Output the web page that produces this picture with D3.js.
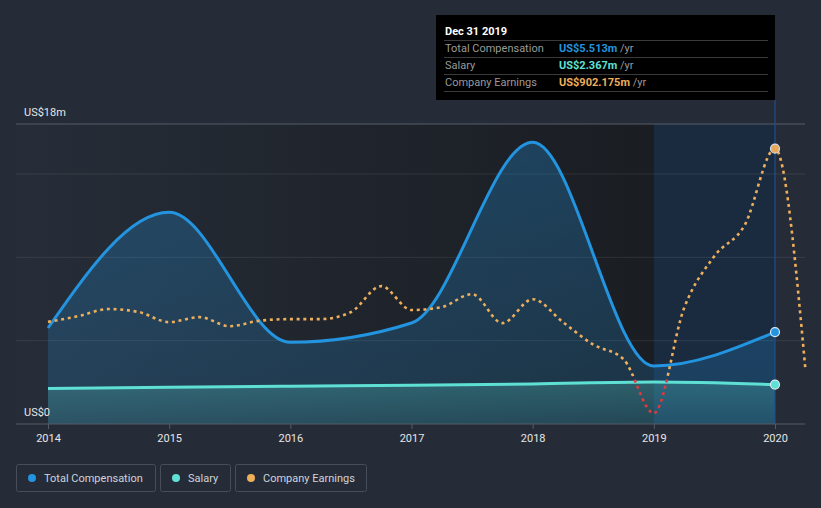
<!DOCTYPE html>
<html><head><meta charset="utf-8">
<script src="https://cdn.jsdelivr.net/npm/d3@7"></script>
<style>
html,body{margin:0;padding:0;background:#252c38;}
svg{display:block;font-family:Roboto,"Noto Sans",sans-serif;}
</style></head>
<body><svg id="c" width="821" height="508"></svg>
<script>
const years = [2014, 2015, 2016, 2017, 2018, 2019, 2020];
const totalComp = [5.76, 12.7, 4.9, 6.06, 16.9, 3.48, 5.513];
const salary = [2.13, 2.2, 2.27, 2.32, 2.4, 2.52, 2.367];
const earningsDates = [2014, 2014.25, 2014.5, 2014.75, 2015, 2015.25, 2015.5, 2015.75, 2016, 2016.25, 2016.5, 2016.75,
  2017, 2017.25, 2017.5, 2017.75, 2018, 2018.25, 2018.5, 2018.75, 2019, 2019.25, 2019.5, 2019.75, 2020, 2020.25];
const earnings = [215, 238, 266, 254, 214, 234, 198, 220, 226, 226, 254, 357,
  262, 274, 325, 210, 305, 214, 125, 67, -147, 270, 476, 599, 902.175, 32];
const yTickValues = [0, 18];
const yTickLabels = ["US$0", "US$18m"];
const gridValues = [5, 10, 15];
const tooltipTitle = "Dec 31 2019";
const tooltipRows = [
  {label: "Total Compensation", value: "US$5.513m", color: "#2394df"},
  {label: "Salary", value: "US$2.367m", color: "#5fe0d4"},
  {label: "Company Earnings", value: "US$902.175m", color: "#eeaf5b"}
];
const legendItems = [
  {label: "Total Compensation", color: "#2394df"},
  {label: "Salary", color: "#5fe0d4"},
  {label: "Company Earnings", color: "#eeaf5b"}
];

(function(){
const svg = d3.select("#c");
const W = 821, H = 508;
const pL = 16, pR = 805, pT = 124, pB = 424;
const x = d3.scaleLinear().domain([2014, 2020]).range([48, 775]);
const y = d3.scaleLinear().domain([0, 18]).range([pB, pT]);
const ye = d3.scaleLinear().domain([-190, 1000]).range([pB, pT]);

const defs = svg.append("defs");
const g1 = defs.append("linearGradient").attr("id", "bgGrad").attr("x1", 0).attr("x2", 1).attr("y1", 0).attr("y2", 0);
g1.append("stop").attr("offset", "0%").attr("stop-color", "#262d38");
g1.append("stop").attr("offset", ((x(2019) - pL) / (x(2020) - pL) * 100) + "%").attr("stop-color", "#1a1d22");
g1.append("stop").attr("offset", "100%").attr("stop-color", "#1a1d22");
const g2 = defs.append("linearGradient").attr("id", "compGrad").attr("x1", 0).attr("x2", 0).attr("y1", 0).attr("y2", 1);
g2.append("stop").attr("offset", "0%").attr("stop-color", "#2394df").attr("stop-opacity", 0.3);
g2.append("stop").attr("offset", "100%").attr("stop-color", "#2394df").attr("stop-opacity", 0.18);
const g3 = defs.append("linearGradient").attr("id", "salGrad").attr("x1", 0).attr("x2", 0).attr("y1", 0).attr("y2", 1);
g3.append("stop").attr("offset", "0%").attr("stop-color", "#5fe0d4").attr("stop-opacity", 0.25);
g3.append("stop").attr("offset", "100%").attr("stop-color", "#5fe0d4").attr("stop-opacity", 0.12);

defs.append("clipPath").attr("id", "posClip").append("rect")
  .attr("x", 0).attr("y", 0).attr("width", W).attr("height", ye(0));
defs.append("clipPath").attr("id", "negClip").append("rect")
  .attr("x", 0).attr("y", ye(0)).attr("width", W).attr("height", H - ye(0));

svg.append("rect").attr("x", pL).attr("y", pT).attr("width", x(2020) - pL).attr("height", pB - pT)
  .attr("fill", "url(#bgGrad)");
svg.append("rect").attr("x", x(2019)).attr("y", pT).attr("width", x(2020) - x(2019)).attr("height", pB - pT)
  .attr("fill", "#1e62b8").attr("opacity", 0.2);

svg.selectAll("line.grid").data(gridValues).enter().append("line")
  .attr("x1", pL).attr("x2", pR).attr("y1", d => y(d)).attr("y2", d => y(d))
  .attr("stroke", "#ffffff").attr("stroke-opacity", 0.09);
svg.append("line").attr("x1", pL).attr("x2", pR).attr("y1", y(18)).attr("y2", y(18))
  .attr("stroke", "#565c66");

const compData = years.map((d, i) => ({x: d, y: totalComp[i]}));
const salData = years.map((d, i) => ({x: d, y: salary[i]}));
const earnData = earningsDates.map((d, i) => ({x: d, y: earnings[i]}));
const curve = d3.curveMonotoneX;

svg.append("path").datum(compData)
  .attr("d", d3.area().x(d => x(d.x)).y0(y(0)).y1(d => y(d.y)).curve(curve))
  .attr("fill", "url(#compGrad)");
svg.append("path").datum(salData)
  .attr("d", d3.area().x(d => x(d.x)).y0(y(0)).y1(d => y(d.y)).curve(curve))
  .attr("fill", "url(#salGrad)");

svg.append("line").attr("x1", x(2020)).attr("x2", x(2020)).attr("y1", 100).attr("y2", pB)
  .attr("stroke", "#1f4f8c").attr("stroke-width", 1.2);

svg.append("path").datum(salData)
  .attr("d", d3.line().x(d => x(d.x)).y(d => y(d.y)).curve(curve))
  .attr("fill", "none").attr("stroke", "#5fe0d4").attr("stroke-width", 3);
svg.append("path").datum(compData)
  .attr("d", d3.line().x(d => x(d.x)).y(d => y(d.y)).curve(curve))
  .attr("fill", "none").attr("stroke", "#2394df").attr("stroke-width", 3);

const eLine = d3.line().x(d => x(d.x)).y(d => ye(d.y)).curve(curve);
svg.append("path").datum(earnData).attr("d", eLine).attr("clip-path", "url(#posClip)")
  .attr("fill", "none").attr("stroke", "#eeaf5b").attr("stroke-width", 2.6).attr("stroke-dasharray", "3,3.7");
svg.append("path").datum(earnData).attr("d", eLine).attr("clip-path", "url(#negClip)")
  .attr("fill", "none").attr("stroke", "#e2383f").attr("stroke-width", 2.6).attr("stroke-dasharray", "3,3.7");

svg.append("line").attr("x1", pL).attr("x2", pR).attr("y1", pB).attr("y2", pB)
  .attr("stroke", "#565c66");
const xAxis = svg.append("g").attr("transform", `translate(0,${pB})`)
  .call(d3.axisBottom(x).tickValues(years).tickFormat(d3.format("d")).tickSize(5).tickPadding(5));
xAxis.select(".domain").remove();
xAxis.selectAll(".tick line").attr("stroke", "#565c66");
xAxis.selectAll("text").attr("fill", "#e6e6e6").attr("font-size", 11).attr("font-family", "Roboto");

svg.selectAll("text.ylab").data(yTickValues).enter().append("text")
  .attr("x", 24).attr("y", d => y(d) - 8).text((d, i) => yTickLabels[i])
  .attr("fill", "#e6e6e6").attr("font-size", 11);

const last = years.length - 1;
svg.append("circle").attr("cx", x(years[last])).attr("cy", y(salary[last])).attr("r", 4.5)
  .attr("fill", "#5fe0d4").attr("stroke", "#d8e8ee").attr("stroke-width", 1.2);
svg.append("circle").attr("cx", x(years[last])).attr("cy", y(totalComp[last])).attr("r", 4.5)
  .attr("fill", "#2394df").attr("stroke", "#d8e8ee").attr("stroke-width", 1.2);
const ei = earningsDates.indexOf(2020);
svg.append("circle").attr("cx", x(earningsDates[ei])).attr("cy", ye(earnings[ei])).attr("r", 4.5)
  .attr("fill", "#e8a95a").attr("stroke", "#d8e0e6").attr("stroke-width", 1.2);

const tt = svg.append("g");
tt.append("rect").attr("x", 436).attr("y", 15).attr("width", x(2020) - 436).attr("height", 85).attr("fill", "#000");
tt.append("text").attr("x", 445).attr("y", 35).text(tooltipTitle)
  .attr("fill", "#fff").attr("font-size", 11).attr("font-weight", "bold");
[40, 57, 74, 91].forEach(v => tt.append("line").attr("x1", 444).attr("x2", 768).attr("y1", v + 0.5).attr("y2", v + 0.5)
  .attr("stroke", "#3a3a3a"));
tooltipRows.forEach((r, i) => {
  const by = 52 + i * 17;
  tt.append("text").attr("x", 445).attr("y", by).text(r.label).attr("fill", "#9a9a9a").attr("font-size", 11);
  const t = tt.append("text").attr("x", 559).attr("y", by).attr("font-size", 11);
  t.append("tspan").text(r.value).attr("fill", r.color).attr("font-weight", "bold");
  t.append("tspan").text(" /yr").attr("fill", "#9a9a9a");
});

let lx = 16;
const widths = [139, 70, 131];
legendItems.forEach((d, i) => {
  const g = svg.append("g").attr("transform", `translate(${lx},464)`);
  g.append("rect").attr("x", 0.5).attr("y", 0.5).attr("width", widths[i]).attr("height", 27).attr("rx", 2)
    .attr("fill", "none").attr("stroke", "#474e59");
  g.append("circle").attr("cx", 16).attr("cy", 14).attr("r", 4).attr("fill", d.color);
  g.append("text").attr("x", 28).attr("y", 18).text(d.label).attr("fill", "#d0d3d8").attr("font-size", 11);
  lx += widths[i] + 5;
});
})();
</script></body></html>
